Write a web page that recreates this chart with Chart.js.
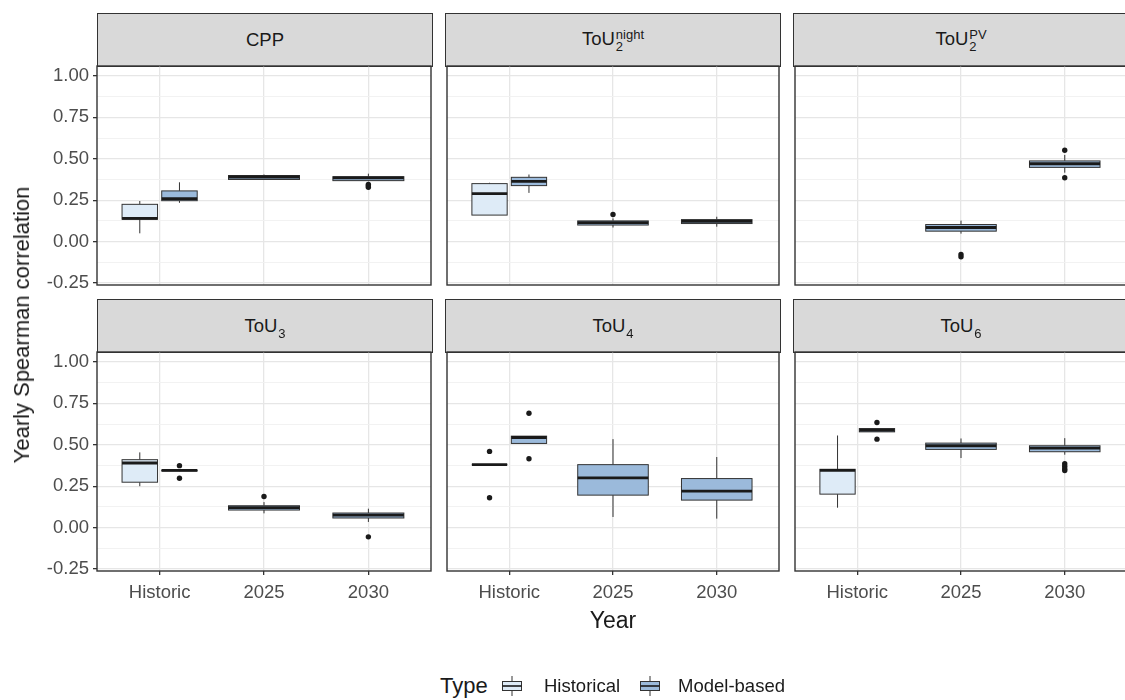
<!DOCTYPE html>
<html>
<head>
<meta charset="utf-8">
<script src="https://cdn.jsdelivr.net/npm/chart.js@4.4.1/dist/chart.umd.min.js"></script>
<style>
  html, body { margin: 0; padding: 0; background: #fff; }
  body { width: 1125px; height: 700px; position: relative; overflow: hidden;
         font-family: 'Liberation Sans', Arial, sans-serif; color: #1a1a1a; }
  .strip { position: absolute; background: #d9d9d9; border: 1.3px solid #333; box-sizing: border-box;
           display: flex; align-items: center; justify-content: center; font-size: 18.5px; color: #1a1a1a; }
  .ss { display: inline-flex; flex-direction: column; font-size: 13px; line-height: 12px; vertical-align: middle;
        margin-left: 1px; position: relative; top: 1px; }
  .sb { font-size: 13px; position: relative; top: 6px; margin-left: 1px; }
  .panel { position: absolute; }
  .label { position: absolute; white-space: nowrap; }
</style>
</head>
<body>

<script>
// Boxplot facets: yearly Spearman correlation by tariff

const categories = ['Historic', '2025', '2030'];
const panelTitles = ['CPP', 'ToU<span class="ss"><span>night</span><span>2</span></span>',
  'ToU<span class="ss"><span>PV</span><span>2</span></span>',
  'ToU<span class="sb">3</span>', 'ToU<span class="sb">4</span>', 'ToU<span class="sb">6</span>'];
const yTicks = [-0.25, -0.125, 0, 0.125, 0.25, 0.375, 0.5, 0.625, 0.75, 0.875, 1.0];

// box stats: [min, q1, median, q3, max]
const historicalBox = [
  [0.05, 0.135, 0.14, 0.225, 0.245],
  [0.16, 0.16, 0.29, 0.35, 0.355],
  null,
  [0.25, 0.274, 0.39, 0.41, 0.454],
  [0.38, 0.38, 0.38, 0.38, 0.38],
  [0.12, 0.202, 0.345, 0.352, 0.556]
];
const historicalOutliers = [[], [], [], [], [0.46, 0.18], []];

const modelBoxHistoric = [
  [0.234, 0.247, 0.26, 0.306, 0.358],
  [0.294, 0.338, 0.364, 0.388, 0.405],
  null,
  [0.34, 0.342, 0.345, 0.347, 0.35],
  [0.508, 0.508, 0.544, 0.552, 0.552],
  [0.578, 0.578, 0.588, 0.598, 0.598]
];
const modelBox2025 = [
  [0.372, 0.375, 0.39, 0.399, 0.405],
  [0.085, 0.10, 0.115, 0.125, 0.14],
  [0.048, 0.063, 0.085, 0.103, 0.127],
  [0.086, 0.106, 0.12, 0.132, 0.154],
  [0.064, 0.196, 0.30, 0.38, 0.534],
  [0.42, 0.472, 0.494, 0.51, 0.538]
];
const modelBox2030 = [
  [0.365, 0.368, 0.385, 0.392, 0.41],
  [0.09, 0.109, 0.122, 0.133, 0.15],
  [0.416, 0.448, 0.47, 0.487, 0.523],
  [0.034, 0.058, 0.075, 0.088, 0.114],
  [0.054, 0.166, 0.22, 0.296, 0.426],
  [0.44, 0.458, 0.48, 0.494, 0.54]
];
const modelOutliersHistoric = [[], [], [], [0.374, 0.298], [0.69, 0.416], [0.634, 0.534]];
const modelOutliers2025 = [[], [0.164], [-0.078, -0.092], [0.188], [], []];
const modelOutliers2030 = [[0.345, 0.337, 0.328], [], [0.551, 0.385], [-0.056], [], [0.385, 0.37, 0.355, 0.345]];

// look
const histFill = '#deebf7';
const modelFill = '#9bbadb';
const lineCol = '#333333';
const fontFamily = "'Liberation Sans', Arial, sans-serif";

// layout
const colLeft = [97, 445, 793];
const rowTop = [66, 352];
const plotW = 336, plotH = 219;
const stripH = 54;
const PAD = 16, SIDE = 2;
const DODGE = 0.19, HALF_W = 0.34, FULL_W = 0.68;

Chart.defaults.font.family = fontFamily;

function isMajor(v) {
  return Math.abs(v * 4 - Math.round(v * 4)) < 1e-6;
}

function makeBoxPlugin(boxes) {
  return {
    id: 'boxes',
    beforeDatasetsDraw(chart) {
      const { ctx, scales: { x, y } } = chart;
      ctx.save();
      boxes.forEach(b => {
        const xc = x.getPixelForValue(b.pos);
        const half = (x.getPixelForValue(b.pos + b.width / 2) - x.getPixelForValue(b.pos - b.width / 2)) / 2;
        const [mn, q1, md, q3, mx] = b.stats.map(v => y.getPixelForValue(v));
        ctx.strokeStyle = lineCol;
        ctx.lineWidth = 1;
        ctx.beginPath();
        ctx.moveTo(xc, mx); ctx.lineTo(xc, q3);
        ctx.moveTo(xc, q1); ctx.lineTo(xc, mn);
        ctx.stroke();
        ctx.fillStyle = b.fill;
        ctx.fillRect(xc - half, q3, half * 2, q1 - q3);
        ctx.strokeRect(xc - half, q3, half * 2, q1 - q3);
        ctx.strokeStyle = '#1a1a1a';
        ctx.lineWidth = 2.8;
        ctx.beginPath();
        ctx.moveTo(xc - half, md); ctx.lineTo(xc + half, md);
        ctx.stroke();
      });
      ctx.restore();
    }
  };
}

const borderPlugin = {
  id: 'panelBorder',
  afterDraw(chart) {
    const { ctx, chartArea: a } = chart;
    ctx.save();
    ctx.strokeStyle = lineCol;
    ctx.lineWidth = 1.4;
    ctx.strokeRect(a.left, a.top, a.right - a.left, a.bottom - a.top);
    ctx.restore();
  }
};

function addDiv(cls, html, style) {
  const d = document.createElement('div');
  d.className = cls;
  d.innerHTML = html;
  Object.assign(d.style, style);
  document.body.appendChild(d);
  return d;
}

function buildPanel(p) {
  const row = Math.floor(p / 3), col = p % 3;
  const yAxisW = col === 0 ? 62 : 0;
  const xAxisH = row === 1 ? 40 : 0;

  // strip
  addDiv('strip', '<span>' + panelTitles[p] + '</span>', {
    left: colLeft[col] + 'px', top: (rowTop[row] - stripH + 1) + 'px',
    width: plotW + 'px', height: stripH + 'px'
  });

  const wrap = addDiv('panel', '', {
    left: (colLeft[col] - yAxisW - SIDE) + 'px', top: (rowTop[row] - PAD) + 'px'
  });
  const canvas = document.createElement('canvas');
  canvas.width = yAxisW + plotW + SIDE * 2;
  canvas.height = PAD + plotH + xAxisH + PAD;
  wrap.appendChild(canvas);

  const hasHist = historicalBox[p] !== null;
  const boxes = [];
  if (hasHist) boxes.push({ pos: 1 - DODGE, width: HALF_W, stats: historicalBox[p], fill: histFill });
  if (modelBoxHistoric[p]) boxes.push({ pos: hasHist ? 1 + DODGE : 1, width: hasHist ? HALF_W : FULL_W, stats: modelBoxHistoric[p], fill: modelFill });
  boxes.push({ pos: 2, width: FULL_W, stats: modelBox2025[p], fill: modelFill });
  boxes.push({ pos: 3, width: FULL_W, stats: modelBox2030[p], fill: modelFill });

  const outliers = [
    ...historicalOutliers[p].map(v => ({ x: 1 - DODGE, y: v })),
    ...modelOutliersHistoric[p].map(v => ({ x: hasHist ? 1 + DODGE : 1, y: v })),
    ...modelOutliers2025[p].map(v => ({ x: 2, y: v })),
    ...modelOutliers2030[p].map(v => ({ x: 3, y: v }))
  ];

  new Chart(canvas, {
    type: 'scatter',
    data: {
      datasets: [{
        label: 'Outliers',
        data: outliers,
        pointRadius: 2.7,
        backgroundColor: '#1a1a1a',
        borderWidth: 0
      }]
    },
    options: {
      responsive: false,
      animation: false,
      devicePixelRatio: 1,
      layout: { padding: { top: PAD, bottom: PAD, left: SIDE, right: SIDE } },
      plugins: { legend: { display: false }, tooltip: { enabled: false } },
      scales: {
        x: {
          type: 'linear', min: 0.4, max: 3.6,
          afterBuildTicks: s => { s.ticks = [1, 2, 3].map(v => ({ value: v })); },
          afterFit: s => { s.height = xAxisH; },
          border: { display: false },
          grid: { color: '#e6e6e6', lineWidth: 1.3, drawTicks: row === 1, tickLength: 4, tickColor: lineCol, tickWidth: 1.3 },
          ticks: { display: row === 1, maxRotation: 0, autoSkip: false, padding: 7,
                   color: '#4d4d4d', font: { size: 18.5 }, callback: v => categories[v - 1] }
        },
        y: {
          min: -0.262, max: 1.06,
          afterBuildTicks: s => { s.ticks = yTicks.map(v => ({ value: v })); },
          afterFit: s => { s.width = yAxisW; },
          border: { display: false },
          grid: {
            color: c => isMajor(c.tick.value) ? '#e6e6e6' : '#f0f0f0',
            lineWidth: c => isMajor(c.tick.value) ? 1.3 : 0.9,
            drawTicks: col === 0, tickLength: 4, tickWidth: 1.3,
            tickColor: c => isMajor(c.tick.value) ? lineCol : 'rgba(0,0,0,0)'
          },
          ticks: { display: col === 0, autoSkip: false, padding: 4, color: '#4d4d4d', font: { size: 18.5 },
                   callback: v => isMajor(v) ? v.toFixed(2) : '' }
        }
      }
    },
    plugins: [makeBoxPlugin(boxes), borderPlugin]
  });
}

for (let p = 0; p < 6; p++) buildPanel(p);

// axis titles
addDiv('label', 'Yearly Spearman correlation', {
  left: '22px', top: '325px', fontSize: '22px', color: '#1a1a1a',
  transform: 'translate(-50%, -50%) rotate(-90deg)'
});
addDiv('label', 'Year', {
  left: '613px', top: '620px', fontSize: '23px', color: '#1a1a1a', transform: 'translate(-50%, -50%)'
});

// legend
function keySvg(fill) {
  return '<svg width="24" height="22" viewBox="0 0 24 22">' +
    '<line x1="12" y1="1" x2="12" y2="21" stroke="' + lineCol + '" stroke-width="1"/>' +
    '<rect x="2.5" y="6.5" width="19" height="9" fill="' + fill + '" stroke="' + lineCol + '" stroke-width="1"/>' +
    '<line x1="2.5" y1="11" x2="21.5" y2="11" stroke="#1a1a1a" stroke-width="1.6"/></svg>';
}
addDiv('label', 'Type', { left: '440px', top: '686px', fontSize: '22px', transform: 'translateY(-50%)' });
addDiv('label', keySvg(histFill), { left: '500px', top: '686px', lineHeight: '0', transform: 'translateY(-50%)' });
addDiv('label', 'Historical', { left: '544px', top: '686px', fontSize: '18.5px', transform: 'translateY(-50%)' });
addDiv('label', keySvg(modelFill), { left: '638px', top: '686px', lineHeight: '0', transform: 'translateY(-50%)' });
addDiv('label', 'Model-based', { left: '678px', top: '686px', fontSize: '18.5px', transform: 'translateY(-50%)' });
</script>
</body>
</html>
